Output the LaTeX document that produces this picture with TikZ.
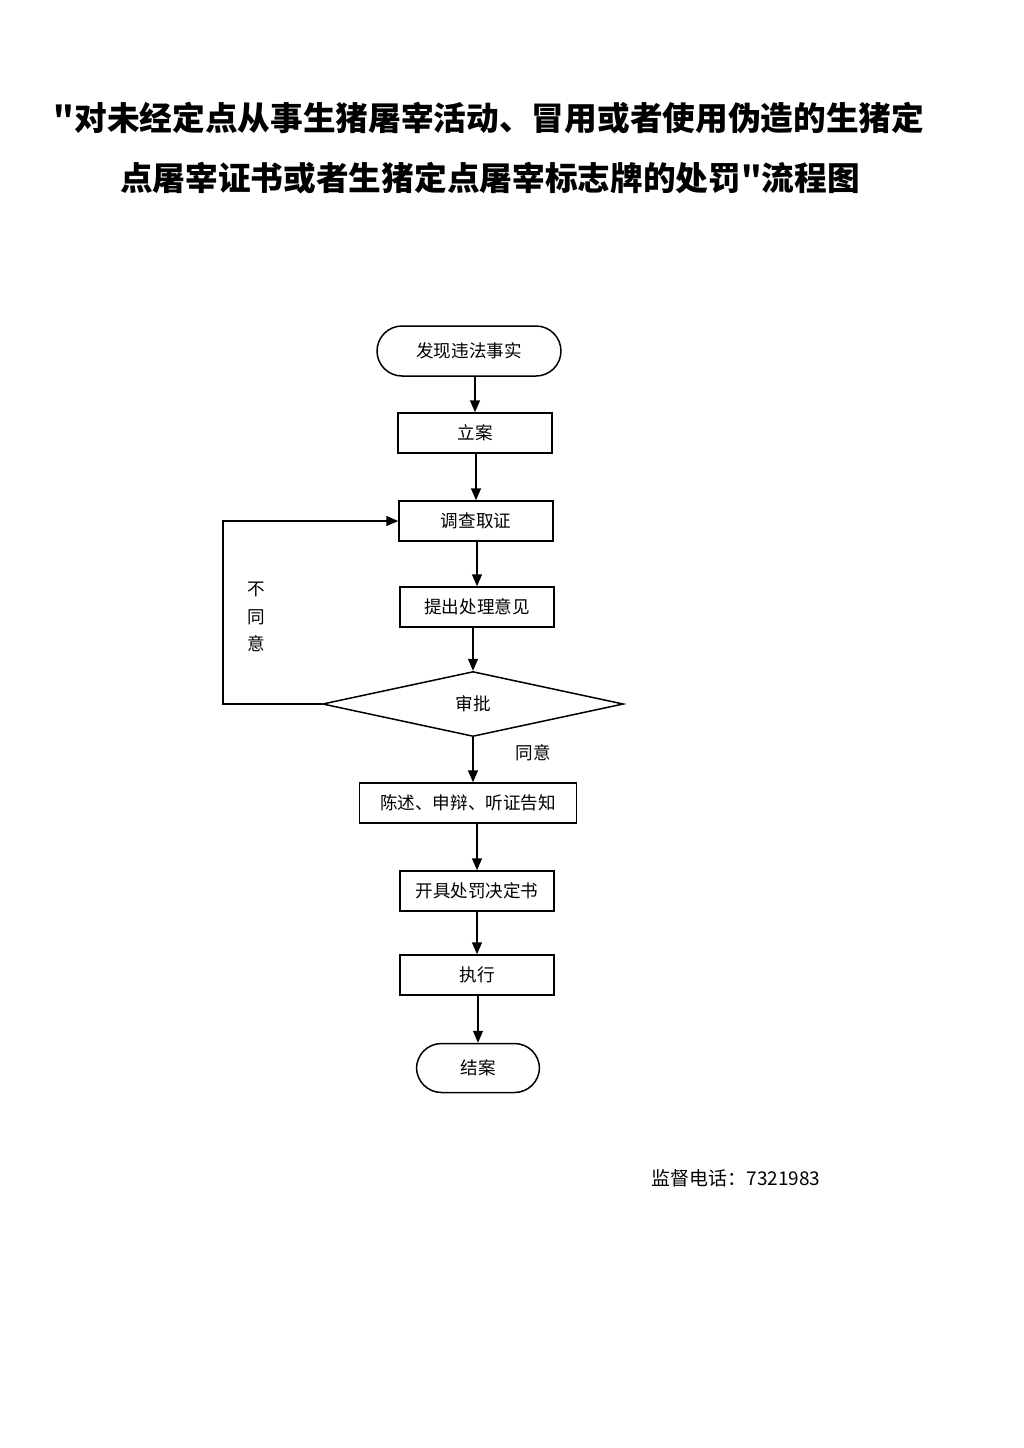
\documentclass[tikz,border=0pt]{standalone}
\usepackage{fontspec}
\newfontfamily\cjk{Noto Sans CJK SC}
\usetikzlibrary{shapes.geometric,arrows.meta}
\begin{document}
\begin{tikzpicture}[x=0.02cm,y=-0.02cm,
        box/.style={draw,line width=0.3mm,minimum width=3.08cm,minimum height=0.8cm,inner sep=0pt,font=\cjk\fontsize{10}{12}\selectfont},
        term/.style={box,rounded corners=0.5cm,minimum height=1cm},
        arr/.style={line width=0.3mm,-{Triangle[length=2.4mm,width=2mm]}}]
        \useasboundingbox (0,0) rectangle (1024,1448);
        %TITLE
        \node[font=\cjk\bfseries\fontsize{18.6}{20}\selectfont] (title1) at (489,118) {"对未经定点从事生猪屠宰活动、冒用或者使用伪造的生猪定};
        \node[font=\cjk\bfseries\fontsize{18.6}{20}\selectfont] (title2) at (490,178) {点屠宰证书或者生猪定点屠宰标志牌的处罚"流程图};

        %STEPS
        \node[term,minimum width=3.68cm] (start) at (469,351) {发现违法事实};
        \node[box] (lian) at (475,433) {立案};
        \node[box] (diaocha) at (476,521) {调查取证};
        \node[box] (tichu) at (477,607) {提出处理意见};
        \node[draw,diamond,line width=0.3mm,minimum width=6.02cm,minimum height=1.3cm,inner sep=0pt,aspect=4.6,font=\cjk\fontsize{10}{12}\selectfont] (shenpi) at (473,704) {审批};
        \node[box,minimum width=4.34cm] (chenshu) at (468,803) {陈述、申辩、听证告知};
        \node[box] (kaiju) at (477,891) {开具处罚决定书};
        \node[box] (zhixing) at (477,975) {执行};
        \node[term,minimum width=2.46cm,minimum height=0.98cm] (jiean) at (478,1068) {结案};

        %ARROWS
        \draw[arr] (start.south -| lian) -- (lian);
        \draw[arr] (lian.south -| diaocha) -- (diaocha);
        \draw[arr] (diaocha.south -| tichu) -- (tichu);
        \draw[arr] (tichu.south -| shenpi) -- (shenpi);
        \draw[arr] (shenpi.south) -- (shenpi.south |- chenshu.north);
        \draw[arr] (chenshu.south -| kaiju) -- (kaiju);
        \draw[arr] (kaiju) -- (zhixing);
        \draw[arr] (zhixing.south -| jiean) -- (jiean);
        % loop back
        \draw[arr] (shenpi.west) -- ++(-99,0) |- (diaocha.west);

        %LABELS
        \node[font=\cjk\fontsize{10}{15.5}\selectfont,align=center] (butongyi) at (256,617) {不\\同\\意};
        \node[font=\cjk\fontsize{10}{12}\selectfont] (tongyi) at (533,753) {同意};
        \node[font=\cjk\fontsize{10.8}{13}\selectfont] (phone) at (736,1178) {监督电话：7321983};
    \end{tikzpicture}
\end{document}
